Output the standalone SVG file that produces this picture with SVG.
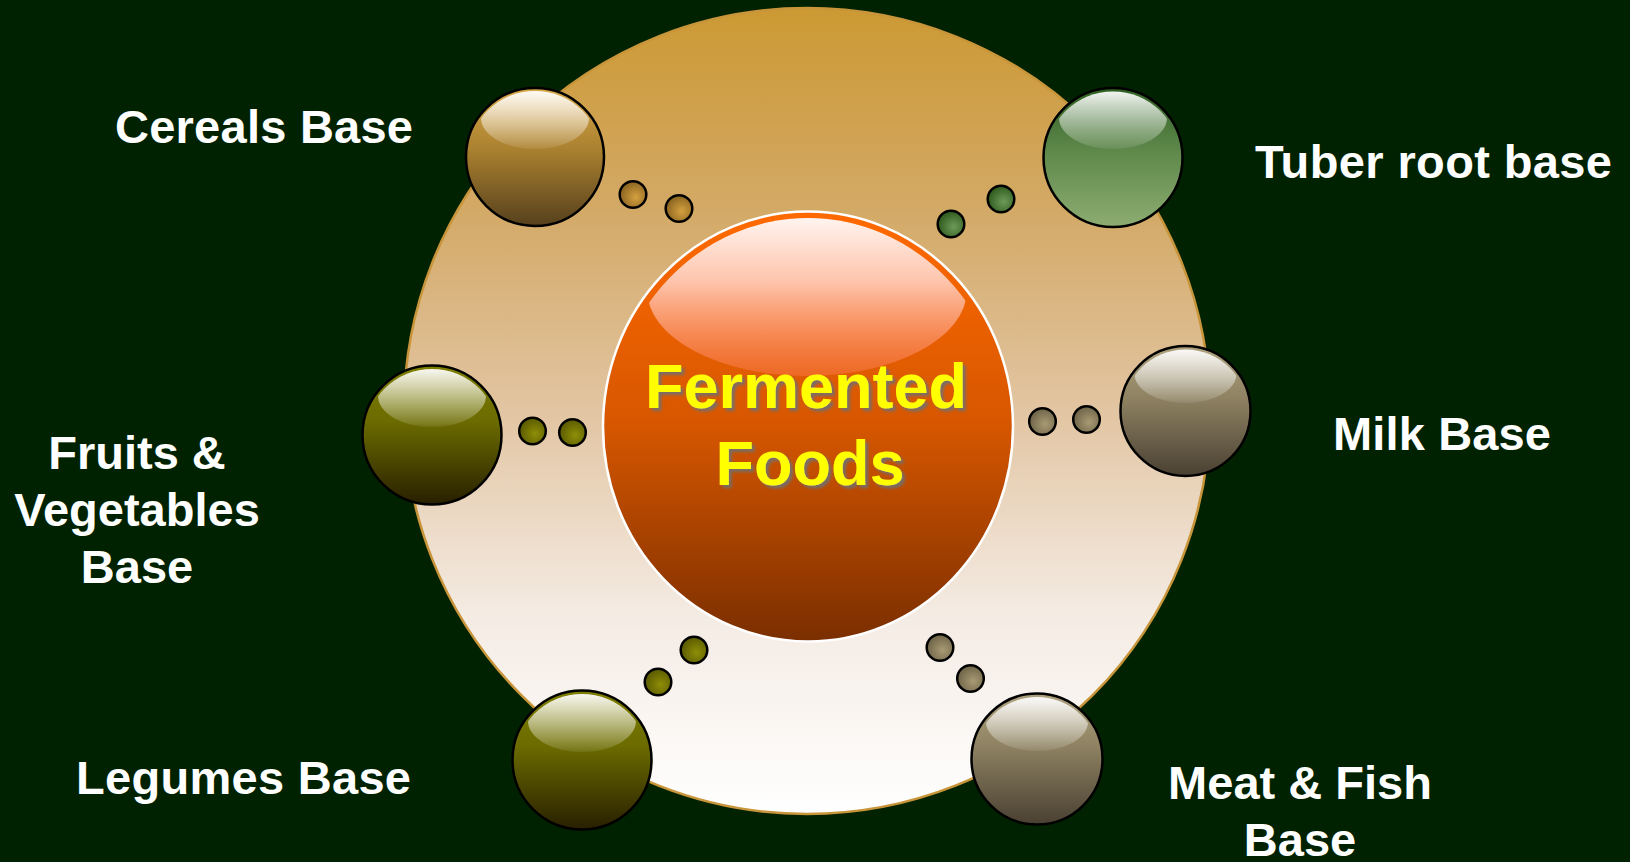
<svg xmlns="http://www.w3.org/2000/svg" width="1630" height="862" viewBox="0 0 1630 862">
<defs>
<linearGradient id="ringG" x1="0" y1="0" x2="0" y2="1">
<stop offset="0" stop-color="#CC9933"/><stop offset="0.25" stop-color="#D3A966"/><stop offset="0.5" stop-color="#E2C5A2"/><stop offset="0.75" stop-color="#F4EBE3"/><stop offset="1" stop-color="#FFFFFF"/>
</linearGradient>
<linearGradient id="coreG" x1="0" y1="0" x2="0" y2="1">
<stop offset="0" stop-color="#FF6A00"/><stop offset="0.5" stop-color="#D65600"/><stop offset="1" stop-color="#7A2E00"/>
</linearGradient>
<linearGradient id="coreHL" x1="0" y1="0" x2="0" y2="1">
<stop offset="0" stop-color="#FFFFFF" stop-opacity="1"/><stop offset="0.45" stop-color="#FFD0C0" stop-opacity="0.9"/><stop offset="1" stop-color="#FF7A50" stop-opacity="0.45"/>
</linearGradient>
<linearGradient id="hl" x1="0" y1="0" x2="0" y2="1">
<stop offset="0" stop-color="#FFFFFF" stop-opacity="1"/><stop offset="1" stop-color="#FFFFFF" stop-opacity="0.08"/>
</linearGradient>
<linearGradient id="cerG" x1="0" y1="0" x2="0" y2="1">
<stop offset="0" stop-color="#D9A94A"/><stop offset="0.45" stop-color="#A9802F"/><stop offset="1" stop-color="#56401C"/>
</linearGradient>
<linearGradient id="tubG" x1="0" y1="0" x2="0" y2="1">
<stop offset="0" stop-color="#2F5F22"/><stop offset="0.4" stop-color="#5A8447"/><stop offset="1" stop-color="#8DAD72"/>
</linearGradient>
<linearGradient id="oliG" x1="0" y1="0" x2="0" y2="1">
<stop offset="0" stop-color="#7E7E00"/><stop offset="0.4" stop-color="#6B6B00"/><stop offset="1" stop-color="#281F00"/>
</linearGradient>
<linearGradient id="milG" x1="0" y1="0" x2="0" y2="1">
<stop offset="0" stop-color="#AEA27E"/><stop offset="0.4" stop-color="#8E8262"/><stop offset="1" stop-color="#4A4032"/>
</linearGradient>
<radialGradient id="dCer" cx="0.6" cy="0.6" r="0.6"><stop offset="0" stop-color="#D4A040"/><stop offset="1" stop-color="#8A6420"/></radialGradient>
<radialGradient id="dTub" cx="0.6" cy="0.6" r="0.6"><stop offset="0" stop-color="#6E9A58"/><stop offset="1" stop-color="#2E5A1E"/></radialGradient>
<radialGradient id="dOli" cx="0.6" cy="0.6" r="0.6"><stop offset="0" stop-color="#8E8E08"/><stop offset="1" stop-color="#5A5A00"/></radialGradient>
<radialGradient id="dMil" cx="0.6" cy="0.6" r="0.6"><stop offset="0" stop-color="#A89A74"/><stop offset="1" stop-color="#6E6448"/></radialGradient>
<clipPath id="cCore"><ellipse cx="808" cy="428" rx="198" ry="210"/></clipPath>
<clipPath id="cCer"><circle cx="535" cy="158" r="67"/></clipPath>
<clipPath id="cTub"><circle cx="1113" cy="158.5" r="67"/></clipPath>
<clipPath id="cFru"><circle cx="432" cy="436" r="67"/></clipPath>
<clipPath id="cMil"><circle cx="1185.5" cy="412" r="62.5"/></clipPath>
<clipPath id="cLeg"><circle cx="582" cy="761" r="67"/></clipPath>
<clipPath id="cMea"><circle cx="1037" cy="760" r="63"/></clipPath>
<filter id="sh" x="-10%" y="-20%" width="130%" height="150%">
<feDropShadow dx="3" dy="3" stdDeviation="1.6" flood-color="#707070" flood-opacity="0.9"/>
</filter>
</defs>
<style>
.sp{stroke:#000;stroke-width:2.5}
.dot{stroke:#000;stroke-width:2.5}
.lbl{font-family:"Liberation Sans",Arial,sans-serif;font-weight:bold;font-size:47px;fill:#FFFFFF}
.ctr{font-family:"Liberation Sans",Arial,sans-serif;font-weight:bold;font-size:63px;fill:#FFFF00;text-anchor:middle}
</style>
<rect width="1630" height="862" fill="#002200"/>
<g id="ring">
<circle cx="807" cy="411" r="403" fill="url(#ringG)" stroke="#C9953A" stroke-width="2.5"/>
</g>
<g id="center">
<ellipse cx="808" cy="426.5" rx="205" ry="215" fill="url(#coreG)" stroke="#FFFFFF" stroke-width="2.5"/>
<ellipse cx="807" cy="290" rx="160" ry="86" fill="url(#coreHL)" clip-path="url(#cCore)"/>
<g filter="url(#sh)">
<text class="ctr" x="806" y="408">Fermented</text>
<text class="ctr" x="810" y="485">Foods</text>
</g>
</g>
<g id="connectors">
<circle class="dot" cx="633" cy="194.5" r="13.3" fill="url(#dCer)"/>
<circle class="dot" cx="679" cy="208.5" r="13.3" fill="url(#dCer)"/>
<circle class="dot" cx="1001" cy="199" r="13.3" fill="url(#dTub)"/>
<circle class="dot" cx="951" cy="224" r="13.3" fill="url(#dTub)"/>
<circle class="dot" cx="532.5" cy="431" r="13.3" fill="url(#dOli)"/>
<circle class="dot" cx="572.5" cy="432.5" r="13.3" fill="url(#dOli)"/>
<circle class="dot" cx="1042.5" cy="421.5" r="13.3" fill="url(#dMil)"/>
<circle class="dot" cx="1086.5" cy="419.5" r="13.3" fill="url(#dMil)"/>
<circle class="dot" cx="694" cy="650" r="13.3" fill="url(#dOli)"/>
<circle class="dot" cx="658" cy="682" r="13.3" fill="url(#dOli)"/>
<circle class="dot" cx="940" cy="647.5" r="13.3" fill="url(#dMil)"/>
<circle class="dot" cx="970.5" cy="678.5" r="13.3" fill="url(#dMil)"/>
</g>
<g id="cereals">
<circle class="sp" cx="535" cy="157" r="69" fill="url(#cerG)"/>
<ellipse cx="535" cy="118" rx="54" ry="31" fill="url(#hl)" clip-path="url(#cCer)"/>
<text class="lbl" x="115" y="143" textLength="298">Cereals Base</text>
</g>
<g id="tuber">
<circle class="sp" cx="1113" cy="157.5" r="69.5" fill="url(#tubG)"/>
<ellipse cx="1113" cy="118" rx="54" ry="31" fill="url(#hl)" clip-path="url(#cTub)"/>
<text class="lbl" x="1255" y="178" textLength="357">Tuber root base</text>
</g>
<g id="fruits">
<circle class="sp" cx="432" cy="435" r="69.5" fill="url(#oliG)"/>
<ellipse cx="432" cy="396" rx="54" ry="31" fill="url(#hl)" clip-path="url(#cFru)"/>
<text class="lbl" text-anchor="middle"><tspan x="137" y="469">Fruits &amp;</tspan><tspan x="137" y="526">Vegetables</tspan><tspan x="137" y="583">Base</tspan></text>
</g>
<g id="milk">
<circle class="sp" cx="1185.5" cy="411" r="65" fill="url(#milG)"/>
<ellipse cx="1185.5" cy="374" rx="51" ry="29" fill="url(#hl)" clip-path="url(#cMil)"/>
<text class="lbl" x="1333" y="450" textLength="218">Milk Base</text>
</g>
<g id="legumes">
<circle class="sp" cx="582" cy="760" r="69.5" fill="url(#oliG)"/>
<ellipse cx="582" cy="721" rx="54" ry="31" fill="url(#hl)" clip-path="url(#cLeg)"/>
<text class="lbl" x="76" y="794" textLength="335">Legumes Base</text>
</g>
<g id="meat">
<circle class="sp" cx="1037" cy="759" r="65.5" fill="url(#milG)"/>
<ellipse cx="1037" cy="722" rx="51" ry="29" fill="url(#hl)" clip-path="url(#cMea)"/>
<text class="lbl" text-anchor="middle"><tspan x="1300" y="799">Meat &amp; Fish</tspan><tspan x="1300" y="856">Base</tspan></text>
</g>
</svg>
